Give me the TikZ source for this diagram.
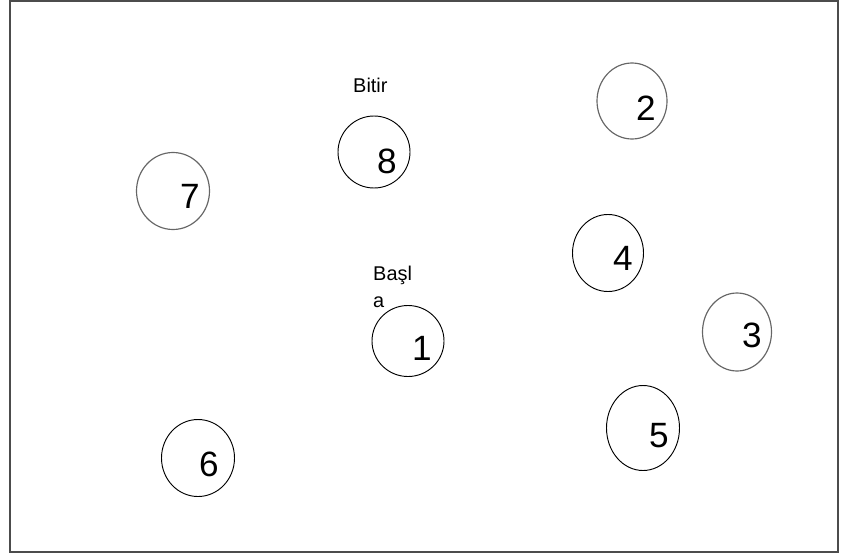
\documentclass[tikz,border=0pt]{standalone}
\usepackage{fontspec}
\setmainfont{Liberation Sans}
\usetikzlibrary{shapes.geometric}
\tikzset{
  frame/.style={draw=black!70, line width=1.3pt},
  blob/.style={ellipse, draw=black, line width=0.8pt, inner sep=0pt},
  greyblob/.style={blob, draw=black!60, line width=1pt},
  digit/.style={font=\fontsize{30}{30}\selectfont, inner sep=0pt},
  tag/.style={font=\fontsize{17}{17}\selectfont, inner sep=0pt, anchor=base west},
}

\begin{document}
\begin{tikzpicture}[x=0.03cm, y=-0.03cm]
\useasboundingbox (0,0) rectangle (843,557);
\draw[frame] (10,1) rectangle (838,552);
% states
\node[blob, minimum width=2.16cm, minimum height=2.13cm] (s1) at (408,341) {};
\node[greyblob, minimum width=2.10cm, minimum height=2.28cm] (s2) at (632,101) {};
\node[greyblob, minimum width=2.07cm, minimum height=2.34cm] (s3) at (737,332) {};
\node[blob, minimum width=2.13cm, minimum height=2.31cm] (s4) at (608,253) {};
\node[blob, minimum width=2.19cm, minimum height=2.55cm] (s5) at (643,428) {};
\node[blob, minimum width=2.19cm, minimum height=2.31cm] (s6) at (198,458) {};
\node[greyblob, minimum width=2.19cm, minimum height=2.31cm] (s7) at (173,191) {};
\node[blob, minimum width=2.16cm, minimum height=2.16cm] (s8) at (374,152) {};
% numbers
\node[digit] (d1) at (422,348) {1};
\node[digit] (d2) at (646,108) {2};
\node[digit] (d3) at (752,335) {3};
\node[digit] (d4) at (623,258) {4};
\node[digit] (d5) at (659,436) {5};
\node[digit] (d6) at (209,464) {6};
\node[digit] (d7) at (190,196) {7};
\node[digit] (d8) at (387,161) {8};
% start / end
\node[tag] (bitir) at (353,92) {Bitir};
\node[tag] (basla) at (373,280) {Başl};
\node[tag] (baslb) at (373,307) {a};
\end{tikzpicture}
\end{document}
